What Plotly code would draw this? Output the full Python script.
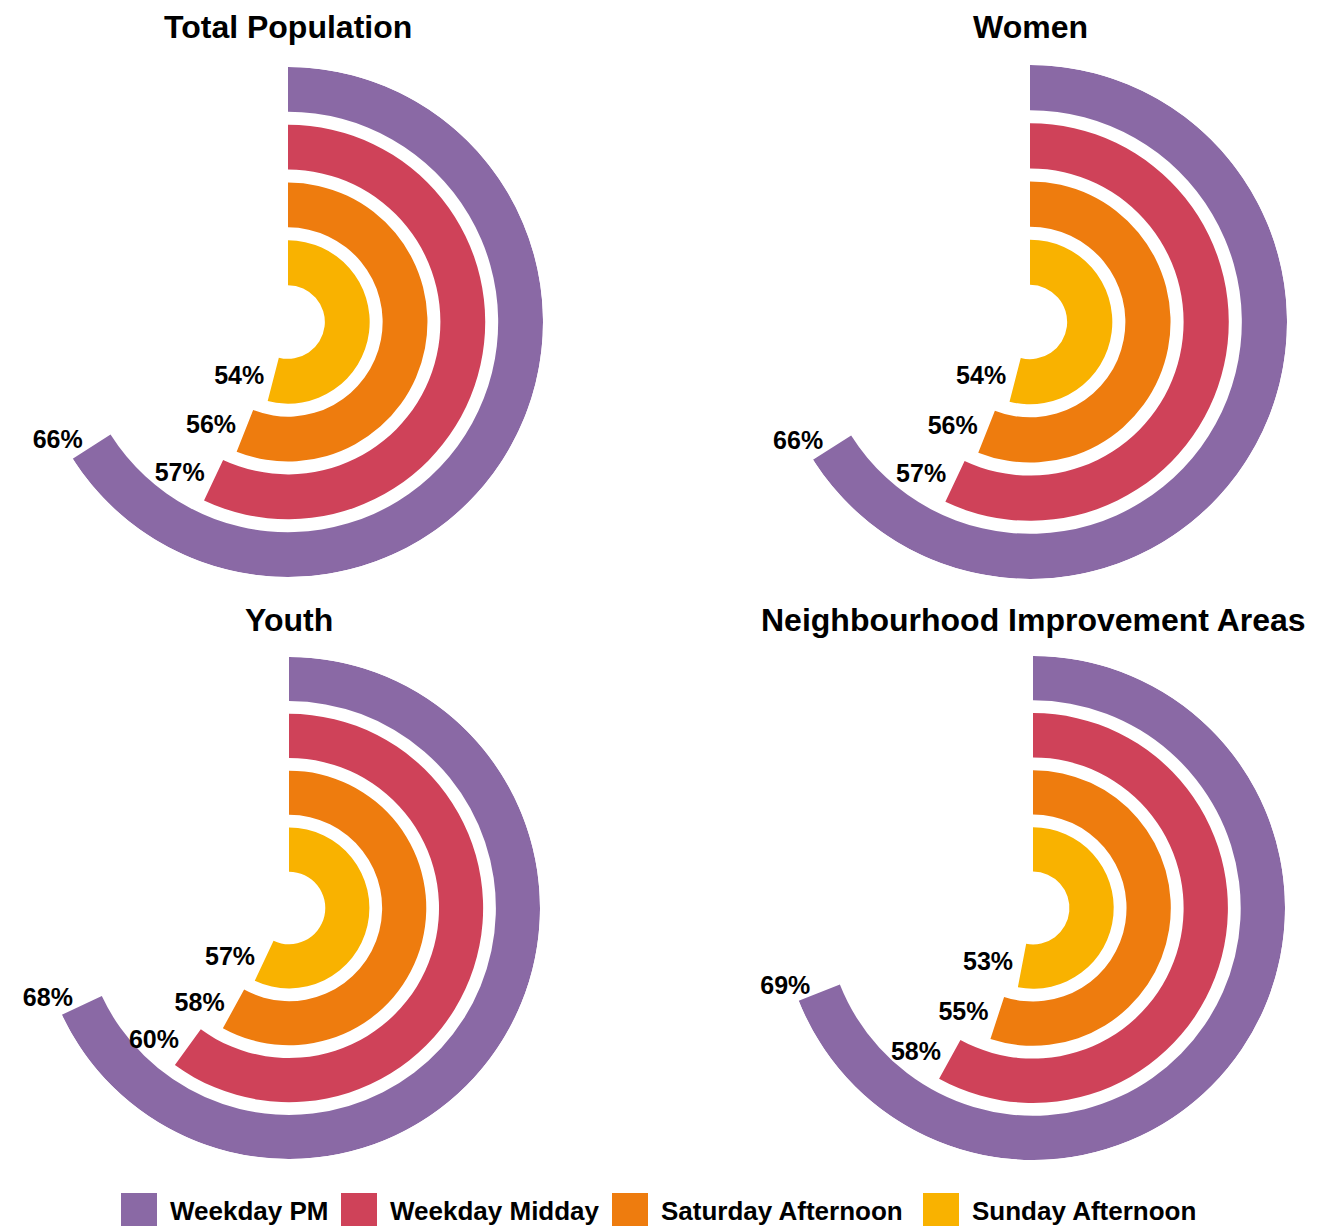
import math
import plotly.graph_objects as go

# ---- data ----
panels = ["Total Population", "Women", "Youth", "Neighbourhood Improvement Areas"]
series = ["Weekday PM", "Weekday Midday", "Saturday Afternoon", "Sunday Afternoon"]
weekday_pm = [66, 66, 68, 69]
weekday_midday = [57, 57, 60, 58]
saturday_afternoon = [56, 56, 58, 55]
sunday_afternoon = [54, 54, 57, 53]

values = [weekday_pm, weekday_midday, saturday_afternoon, sunday_afternoon]
colors = ["#8A69A5", "#CF4259", "#EE7C0E", "#F9B200"]

# ring geometry (radial units): outermost ring first
ring_base = [211, 153, 95, 37]
ring_width = 45
r_max = 256

W, H = 1339, 1226
OFF = 8  # html body margin
# panel centres & radii in page pixels (layout)
centers = [(288, 322, 255), (1030, 322, 257), (289, 908, 251), (1033, 908, 252)]
LBL_DX = [-9, -9, -9, -9]   # label offset from arc end, px (per ring)
LBL_DY = [-5, -5, -4, -1]

def px_x(x):
    return (x - OFF) / W

def px_y(y):
    return 1 - (y - OFF) / H

fig = go.Figure()
FONT = "Liberation Sans, Arial, sans-serif"

for p, name in enumerate(panels):
    sub = "polar" if p == 0 else f"polar{p+1}"
    cx, cy, rad = centers[p]
    scale = rad / r_max
    lr, lt, lx = [], [], []
    for s in range(len(series)):
        v = values[s][p]
        fig.add_trace(go.Barpolar(
            r=[ring_width], base=[ring_base[s]],
            theta=[v * 3.6 / 2], width=[v * 3.6],
            marker=dict(color=colors[s], line=dict(width=0)),
            name=series[s], showlegend=False, subplot=sub,
            hoverinfo="skip"))
        # label anchored at arc end, nudged by a fixed pixel offset
        th = math.radians(v * 3.6)
        rm = ring_base[s] + ring_width / 2
        dx, dy = LBL_DX[s], LBL_DY[s]
        dr_px = dx * math.sin(th) - dy * math.cos(th)
        dt_px = dx * math.cos(th) + dy * math.sin(th)
        lr.append(rm + dr_px / scale)
        lt.append(v * 3.6 + math.degrees(dt_px / (rm * scale)))
        lx.append(f"{v}%")
    fig.add_trace(go.Scatterpolar(
        r=lr, theta=lt, text=lx,
        mode="text", textposition="middle left",
        textfont=dict(family=FONT, size=25, color="black", weight="bold"),
        cliponaxis=False, showlegend=False, subplot=sub, hoverinfo="skip"))

    dom = dict(x=[px_x(cx - rad), px_x(cx + rad)],
               y=[px_y(cy + rad), px_y(cy - rad)])
    fig.update_layout(**{sub: dict(
        domain=dom, bgcolor="white",
        radialaxis=dict(visible=False, range=[0, r_max], showgrid=False),
        angularaxis=dict(visible=False, direction="clockwise", rotation=90, showgrid=False),
        barmode="overlay")})
    title_y = 27 if p < 2 else 620
    fig.add_annotation(text=f"<b>{name}</b>", x=px_x(cx), y=px_y(title_y),
                       xref="paper", yref="paper", showarrow=False,
                       xanchor="center", yanchor="middle",
                       font=dict(family=FONT, size=32, color="black"))

# custom legend (layout)
legend_x = [121, 341, 612, 923]
sq = 36
for s in range(len(series)):
    x0 = legend_x[s]
    fig.add_shape(type="rect", xref="paper", yref="paper",
                  x0=px_x(x0), x1=px_x(x0 + sq), y0=px_y(1193 + sq), y1=px_y(1193),
                  fillcolor=colors[s], line=dict(width=0))
    fig.add_annotation(text=f"<b>{series[s]}</b>", x=px_x(x0 + sq + 11), y=px_y(1211),
                       xref="paper", yref="paper", showarrow=False,
                       xanchor="left", yanchor="middle",
                       font=dict(family=FONT, size=26, color="black"))

fig.update_layout(width=W, height=H, margin=dict(l=0, r=0, t=0, b=0),
                  paper_bgcolor="white", plot_bgcolor="white", showlegend=False)
fig.write_html("out.html")
